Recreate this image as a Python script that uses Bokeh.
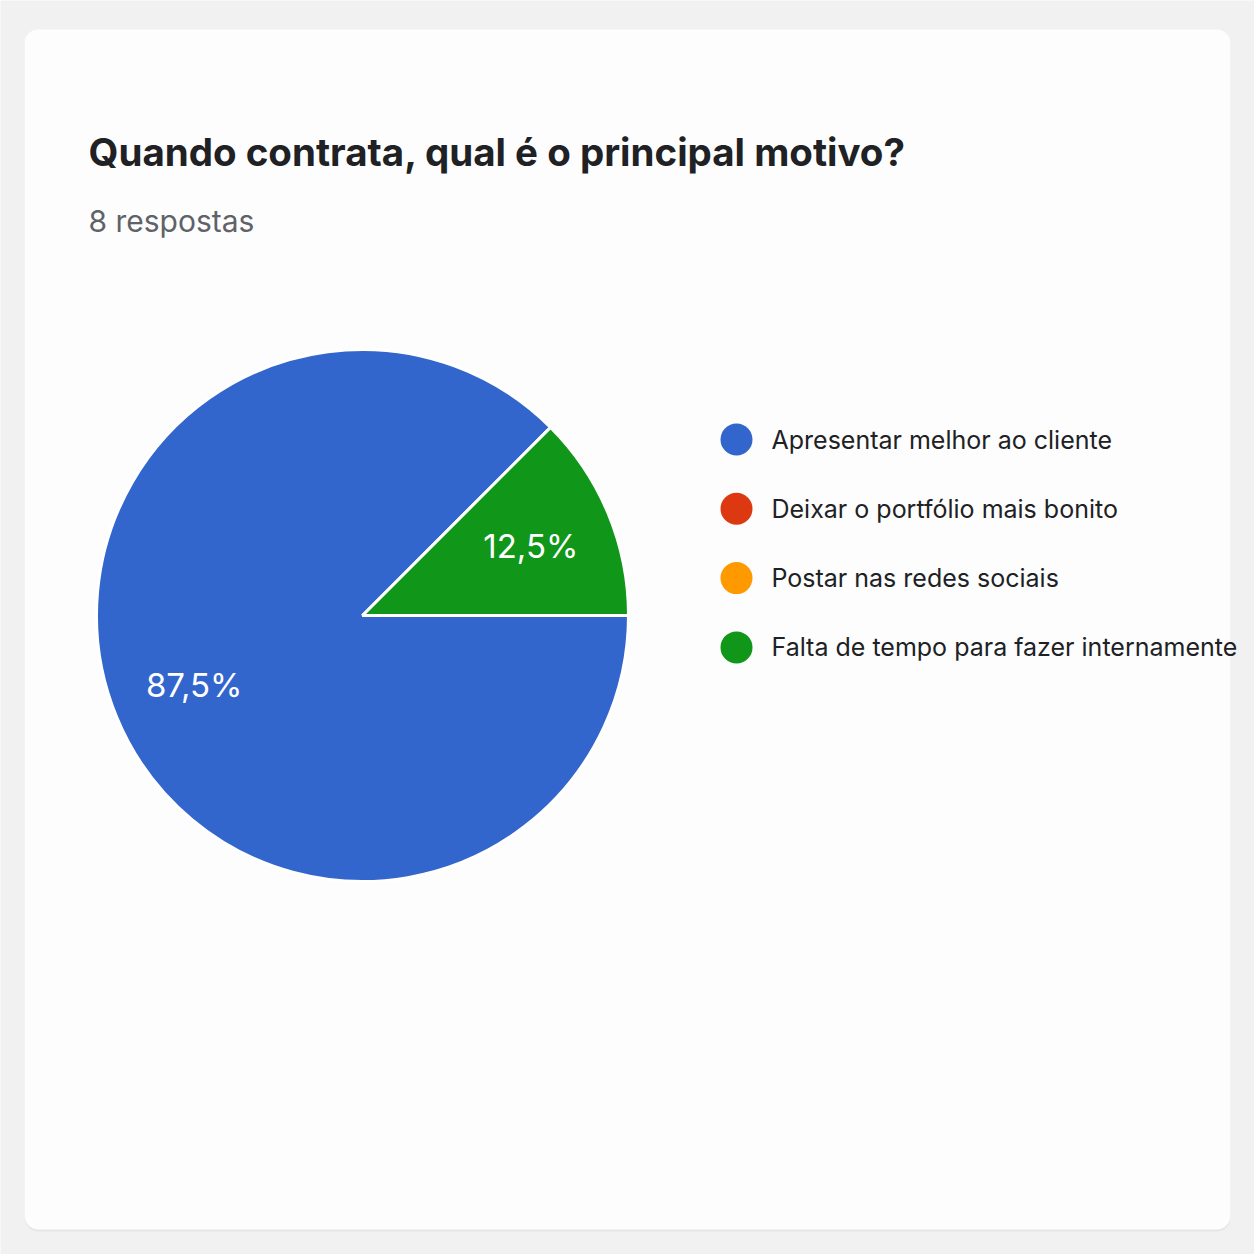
import math
from bokeh.plotting import figure
from bokeh.models import Range1d, ColumnDataSource
from bokeh.core.properties import value
from bokeh.embed import file_html
from bokeh.resources import INLINE

# ---- data ----
title = "Quando contrata, qual é o principal motivo?"
subtitle = "8 respostas"
categories = ["Apresentar melhor ao cliente", "Deixar o portfólio mais bonito",
              "Postar nas redes sociais", "Falta de tempo para fazer internamente"]
counts = [7, 0, 0, 1]
colors = ["#3366cc", "#dc3912", "#ff9900", "#109618"]

W, H = 1254, 1254
p = figure(width=W, height=H, output_backend="svg", toolbar_location=None,
           x_range=Range1d(0, W), y_range=Range1d(0, H),
           min_border=0, background_fill_color="#f1f1f2", border_fill_color="#f1f1f2")
p.axis.visible = False
p.grid.visible = False
p.outline_line_color = None

def Y(py):
    return H - py

# card shadow + card
p.quad(left=[24], right=[1230], top=[Y(30)], bottom=[Y(1231)], fill_color="#e6e6e8",
       line_color=None, border_radius=14)
p.quad(left=[24], right=[1230], top=[Y(29)], bottom=[Y(1229)], fill_color="#fdfdfd",
       line_color=None, border_radius=14)

# title and subtitle
p.text(x=[88], y=[Y(151)], text=[title], text_font=value("Inter"), text_font_size="38.5px",
       text_font_style="bold", text_color="#202124", text_baseline="middle", text_align="left")
p.text(x=[88], y=[Y(220)], text=[subtitle], text_font=value("Inter"), text_font_size="30px",
       text_color="#5f6368", text_baseline="middle", text_align="left")

# pie
cx, cy, r = 362, Y(615), 266
total = sum(counts)
start = math.pi / 4
starts, ends, labels, lx, ly, wc = [], [], [], [], [], []
a = start
for c, col in zip(counts, colors):
    if c == 0:
        continue
    span = 2 * math.pi * c / total
    starts.append(a)
    ends.append(a + span)
    wc.append(col)
    mid = a + span / 2
    lx.append(cx + 0.685 * r * math.cos(mid))
    ly.append(cy + 0.685 * r * math.sin(mid))
    labels.append(f"{100 * c / total:.1f}%".replace(".", ","))
    a += span

src = ColumnDataSource(dict(s=starts, e=ends, c=wc))
p.wedge(x=cx, y=cy, radius=r, start_angle="s", end_angle="e", fill_color="c",
        line_color="white", line_width=3, source=src)
p.text(x=lx, y=ly, text=labels, text_font=value("Inter"), text_font_size="33px",
       text_color="white", text_align="center", text_baseline="middle")

# legend
leg_y = [Y(439 + 69.3 * i) for i in range(len(categories))]
p.scatter(x=[736] * len(categories), y=leg_y, size=32, marker="circle",
          fill_color=colors, line_color=None)
p.text(x=[771] * len(categories), y=leg_y, text=categories, text_font=value("Inter"),
       text_font_size="25px", text_color="#202124", text_align="left", text_baseline="middle")

html = file_html(p, INLINE)
html = html.replace("<body>", '<body style="background:#f1f1f2">', 1)
open("out.html", "w").write(html)
